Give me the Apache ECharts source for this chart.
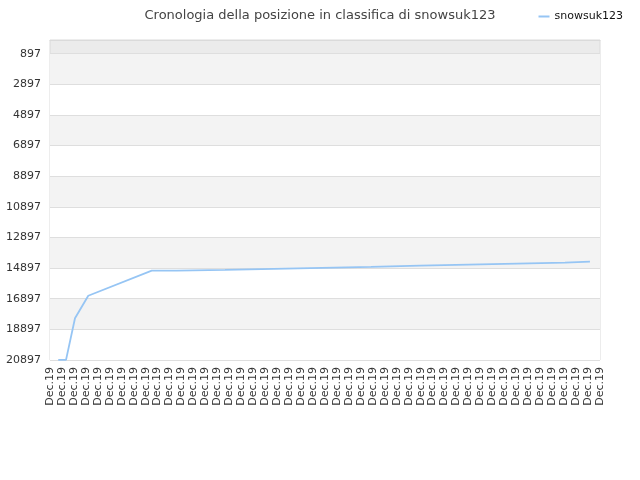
<!DOCTYPE html>
<html style="height: 100%">
<head>
    <meta charset="UTF-8">
    <title>Cronologia</title>
    <script type="text/javascript" src="https://cdn.jsdelivr.net/npm/echarts/dist/echarts.min.js"></script>
</head>
<body style="height: 100%; margin: 0">
    <div id="container" style="width: 640px; height: 480px"></div>
<script>
    // x labels (one per category slot)
    var dayLabels = [];
    for (var i = 0; i < 47; i++) dayLabels.push('Dec.19');

    // y ticks
    var rankTicks = [897, 2897, 4897, 6897, 8897, 10897, 12897, 14897, 16897, 18897, 20897];

    // position of each sample along the label slots, and rank
    var sampleAt = [0.69, 1.34, 2.09, 3.20, 8.51, 10.60, 10.60, 14.64, 14.64, 18.73, 18.73, 22.75, 22.75,
                    26.85, 26.85, 30.94, 30.94, 34.98, 34.98, 39.06, 39.06, 43.07, 43.07, 45.16];
    var ranks = [20890, 20890, 18170, 16700, 15060, 15060, 15015, 15015, 14950, 14950, 14884, 14884, 14819,
                 14819, 14740, 14740, 14668, 14668, 14603, 14603, 14538, 14538, 14472, 14472];

    var seriesName = 'snowsuk123';

    var data = sampleAt.map(function (t, i) { return [t, ranks[i]]; });

    var myChart = echarts.init(document.getElementById('container'));
    var option = {
        animation: false,
        title: {
            text: 'Cronologia della posizione in classifica di snowsuk123',
            left: 'center',
            top: 4,
            textStyle: { fontSize: 13, fontWeight: 'normal', color: '#444', fontFamily: 'DejaVu Sans' }
        },
        legend: {
            data: [seriesName],
            right: 12,
            top: 6,
            icon: 'rect',
            itemWidth: 11,
            itemHeight: 2,
            itemGap: 8,
            textStyle: { fontSize: 11, color: '#111', fontFamily: 'DejaVu Sans' }
        },
        grid: {
            left: 50, right: 40, top: 40, bottom: 120,
            show: true,
            backgroundColor: '#ebebeb',
            borderColor: '#dadada',
            borderWidth: 1
        },
        xAxis: [{
            type: 'category',
            data: dayLabels,
            boundaryGap: false,
            axisLine: { lineStyle: { color: '#dadada' } },
            axisTick: { show: false },
            axisLabel: { interval: 0, rotate: 90, margin: 7, fontSize: 11, color: '#333', fontFamily: 'DejaVu Sans' },
            splitLine: { show: false }
        }, {
            type: 'value',
            min: 0,
            max: dayLabels.length - 1,
            show: false
        }],
        yAxis: {
            type: 'value',
            inverse: true,
            min: 0,
            max: 20897,
            axisLine: { show: false },
            axisTick: { show: false, customValues: rankTicks },
            axisLabel: {
                customValues: rankTicks,
                formatter: function (v) { return String(v); },
                fontSize: 11, color: '#333', margin: 9, fontFamily: 'DejaVu Sans'
            },
            splitLine: { show: true, lineStyle: { color: '#dedede' } },
            splitArea: { show: true, areaStyle: { color: ['#f3f3f3', '#ffffff'] } }
        },
        series: [{
            name: seriesName,
            type: 'line',
            xAxisIndex: 1,
            data: data,
            showSymbol: false,
            itemStyle: { color: '#96c5f4' },
            lineStyle: { color: '#96c5f4', width: 1.8 }
        }]
    };
    myChart.setOption(option);
</script>
</body>
</html>
